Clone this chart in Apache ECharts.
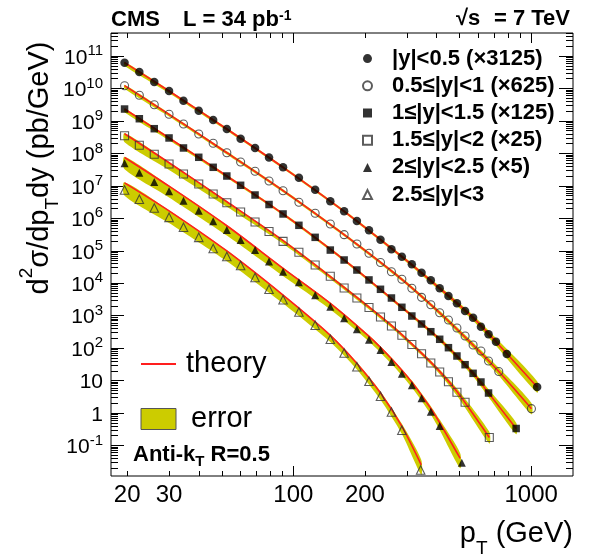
<!DOCTYPE html>
<html>
<head>
<meta charset="utf-8">
<script src="https://cdn.jsdelivr.net/npm/echarts@6/dist/echarts.min.js"></script>
<style>
  html, body { margin: 0; padding: 0; background: #fff; }
  #chart { width: 590px; height: 555px; }
</style>
</head>
<body>
<div id="chart"></div>
<script>
// ---- data (values as plotted, scale factors included) ----
const names = [
  '|y|<0.5 (×3125)',
  '0.5≤|y|<1 (×625)',
  '1≤|y|<1.5 (×125)',
  '1.5≤|y|<2 (×25)',
  '2≤|y|<2.5 (×5)',
  '2.5≤|y|<3'
];

const ptS1 = [19.5, 22.5, 26, 30, 34.5, 40, 46, 52.5, 60, 69, 79, 90.5, 105.5, 123.5, 143, 163.5, 185, 208, 232.5, 258.5, 286, 315, 346, 378.5, 412.5, 449, 487.5, 527.5, 570, 615, 662, 711.5, 790, 1060];
const valS1 = [6.24e10, 3.22e10, 1.58e10, 8.37e9, 4.21e9, 2.07e9, 1.07e9, 5.65e8, 2.84e8, 1.47e8, 7.48e7, 3.73e7, 1.78e7, 7.60e6, 3.34e6, 1.64e6, 8.26e5, 4.27e5, 2.19e5, 1.11e5, 6.56e4, 3.82e4, 2.11e4, 1.23e4, 6.97e3, 4.04e3, 2.40e3, 1.39e3, 865, 456, 266, 157, 65.8, 6.32];

const ptS2 = [19.5, 22.5, 26, 30, 34.5, 40, 46, 52.5, 60, 69, 79, 90.5, 105.5, 123.5, 143, 163.5, 185, 208, 232.5, 258.5, 286, 315, 346, 378.5, 412.5, 449, 487.5, 527.5, 570, 615, 662, 731, 1003];
const valS2 = [1.22e10, 6.17e9, 3.17e9, 1.60e9, 8.05e8, 3.96e8, 2.05e8, 1.05e8, 5.43e7, 2.81e7, 1.41e7, 7.10e6, 3.11e6, 1.43e6, 6.67e5, 3.13e5, 1.61e5, 8.34e4, 4.35e4, 2.26e4, 1.32e4, 6.97e3, 3.67e3, 2.17e3, 1.23e3, 735, 416, 236, 125, 81.5, 40.0, 19.0, 1.36];

const ptS3 = [19.5, 22.5, 26, 30, 34.5, 40, 46, 52.5, 60, 69, 79, 90.5, 105.5, 123.5, 143, 163.5, 185, 208, 232.5, 258.5, 286, 315, 346, 378.5, 412.5, 449, 487.5, 527.5, 570, 615, 662, 865];
const valS3 = [2.33e9, 1.17e9, 5.77e8, 2.99e8, 1.47e8, 7.59e7, 3.73e7, 2.01e7, 1.04e7, 5.22e6, 2.66e6, 1.36e6, 6.08e5, 2.59e5, 1.05e5, 5.19e4, 2.55e4, 1.26e4, 6.49e3, 3.50e3, 1.81e3, 975, 553, 320, 187, 103, 57.1, 30.8, 16.7, 9.02, 4.13, 0.333];

const ptS4 = [19.5, 22.5, 26, 30, 34.5, 40, 46, 52.5, 60, 69, 79, 90.5, 105.5, 123.5, 143, 163.5, 185, 208, 232.5, 258.5, 286, 315, 346, 378.5, 412.5, 449, 487.5, 527.5, 667];
const valS4 = [3.51e8, 1.78e8, 9.38e7, 4.71e7, 2.32e7, 1.14e7, 5.61e6, 3.03e6, 1.56e6, 7.69e5, 3.92e5, 1.95e5, 8.95e4, 3.64e4, 1.63e4, 7.11e3, 3.50e3, 1.78e3, 908, 480, 248, 129, 67.1, 34.8, 18.3, 9.14, 4.38, 2.15, 0.176];

const ptS5 = [19.5, 22.5, 26, 30, 34.5, 40, 46, 52.5, 60, 69, 79, 90.5, 105.5, 123.5, 143, 163.5, 185, 208, 232.5, 258.5, 286, 315, 346, 378.5, 412.5, 511];
const valS5 = [4.95e7, 2.54e7, 1.32e7, 6.79e6, 3.48e6, 1.71e6, 8.09e5, 4.36e5, 2.14e5, 1.05e5, 4.67e4, 2.26e4, 1.07e4, 4.24e3, 1.89e3, 828, 379, 182, 87.3, 37.3, 16.3, 7.14, 2.84, 1.10, 0.397, 0.0294];

const ptS6 = [19.5, 22.5, 26, 30, 34.5, 40, 46, 52.5, 60, 69, 79, 90.5, 105.5, 123.5, 143, 163.5, 185, 208, 232.5, 258.5, 286, 343];
const valS6 = [7.45e6, 3.85e6, 2.07e6, 1.07e6, 5.28e5, 2.59e5, 1.17e5, 6.65e4, 3.51e4, 1.50e4, 6.53e3, 3.10e3, 1.29e3, 505, 188, 70.6, 26.7, 9.55, 3.27, 1.07, 0.293, 0.0175];

// theory curves (red) and their uncertainty band (relative up / down)
const thPt1 = [19.5, 30, 52.5, 90.5, 163.5, 286, 412.5, 570, 711.5, 1060];
const thVal1 = [6.24e10, 8.37e9, 5.65e8, 3.73e7, 1.64e6, 6.56e4, 6.97e3, 865, 157, 6.32];
const thPt2 = [19.5, 30, 52.5, 90.5, 163.5, 286, 412.5, 570, 731, 1003];
const thVal2 = [1.22e10, 1.60e9, 1.05e8, 7.10e6, 3.13e5, 1.32e4, 1.23e3, 125, 19.0, 1.36];
const thPt3 = [19.5, 30, 52.5, 90.5, 163.5, 286, 412.5, 570, 662, 865];
const thVal3 = [2.33e9, 2.99e8, 2.01e7, 1.36e6, 5.19e4, 1.81e3, 187, 16.7, 4.13, 0.333];
const errUpC = [0.06, 0.08, 0.1, 0.1, 0.1, 0.12, 0.15, 0.2, 0.3, 0.5];
const errDnC = [0.2, 0.15, 0.12, 0.1, 0.1, 0.12, 0.15, 0.2, 0.25, 0.33];
const thPt4 = [19.5, 30, 52.5, 90.5, 163.5, 258.5, 346, 412.5, 487.5, 667];
const thVal4 = [4.03e8, 5.16e7, 3.24e6, 2.05e5, 7.45e3, 502, 70.3, 19.2, 4.58, 0.176];
const errUp4 = [0.05, 0.05, 0.06, 0.08, 0.1, 0.1, 0.12, 0.15, 0.25, 0.5];
const errDn4 = [0.45, 0.4, 0.3, 0.2, 0.15, 0.15, 0.15, 0.18, 0.25, 0.35];
const thPt5 = [19.5, 30, 52.5, 90.5, 143, 208, 258.5, 315, 378.5, 412.5, 503];
const thVal5 = [7.50e7, 9.77e6, 5.89e5, 2.88e4, 2.40e3, 229, 46.8, 8.91, 1.38, 0.501, 0.0398];
const errUp5 = [0.05, 0.05, 0.05, 0.05, 0.06, 0.08, 0.1, 0.12, 0.18, 0.25, 0.45];
const errDn5 = [0.57, 0.55, 0.5, 0.42, 0.35, 0.3, 0.3, 0.32, 0.35, 0.4, 0.5];
const thPt6 = [19.5, 30, 52.5, 90.5, 143, 185, 232.5, 286, 345];
const thVal6 = [1.24e7, 1.70e6, 9.84e4, 4.29e3, 248, 33.7, 4.12, 0.386, 0.0251];
const errUp6 = [0.05, 0.05, 0.05, 0.05, 0.06, 0.08, 0.12, 0.2, 0.45];
const errDn6 = [0.6, 0.58, 0.52, 0.45, 0.38, 0.35, 0.38, 0.42, 0.5];

// axis ticks
const xLabels = [20, 30, 100, 200, 1000];
const xMajor = [100, 1000];
const xMinor = [20, 30, 40, 50, 60, 70, 80, 90, 200, 300, 400, 500, 600, 700, 800, 900];
const yMajor = [0.1, 1, 10, 1e2, 1e3, 1e4, 1e5, 1e6, 1e7, 1e8, 1e9, 1e10, 1e11];
const X_RANGE = [17.1, 1500];
const Y_RANGE = [0.01145, 5.13e11];

const yMinor = [];
for (let d = -2; d <= 11; d++) {
  for (let k = 2; k <= 9; k++) {
    const v = k * Math.pow(10, d);
    if (v > Y_RANGE[0] && v < Y_RANGE[1]) yMinor.push(v);
  }
}

const FAMILY = 'Liberation Sans';
const RED = '#ff1e1e';
const BAND = '#cccc00';

const markers = [
  { pt: ptS1, val: valS1, symbol: 'circle', size: 8.5, open: false, thPt: thPt1, th: thVal1, up: errUpC, dn: errDnC },
  { pt: ptS2, val: valS2, symbol: 'circle', size: 8, open: true, thPt: thPt2, th: thVal2, up: errUpC, dn: errDnC },
  { pt: ptS3, val: valS3, symbol: 'rect', size: 7.5, open: false, thPt: thPt3, th: thVal3, up: errUpC, dn: errDnC },
  { pt: ptS4, val: valS4, symbol: 'rect', size: 8, open: true, thPt: thPt4, th: thVal4, up: errUp4, dn: errDn4 },
  { pt: ptS5, val: valS5, symbol: 'triangle', size: 8, open: false, thPt: thPt5, th: thVal5, up: errUp5, dn: errDn5 },
  { pt: ptS6, val: valS6, symbol: 'triangle', size: 8.5, open: true, thPt: thPt6, th: thVal6, up: errUp6, dn: errDn6 }
];

function logAxis(range, pos, ticks, len, labelValues, labelExtra) {
  const ax = {
    type: 'log',
    logBase: 10,
    min: range[0],
    max: range[1],
    position: pos,
    axisLine: { show: false, onZero: false },
    splitLine: { show: false },
    minorTick: { show: false },
    axisTick: { show: true, inside: true, length: len, customValues: ticks, lineStyle: { color: '#000', width: 1 } },
    axisLabel: { show: false }
  };
  if (labelValues) {
    ax.axisLabel = Object.assign({ show: true, customValues: labelValues, color: '#000', fontFamily: FAMILY }, labelExtra);
  }
  return ax;
}

function bandSeries(m) {
  const data = m.thPt.map((p, i) => [p, m.th[i] * (1 - m.dn[i]), m.th[i] * (1 + m.up[i])]);
  return {
    type: 'custom',
    name: 'error',
    z: 1,
    silent: true,
    itemStyle: { color: BAND },
    encode: { x: 0, y: [1, 2] },
    data: data,
    renderItem: function (params, api) {
      if (params.dataIndex !== 0) return;
      const upper = data.map((d) => api.coord([d[0], d[2]]));
      const lower = data.map((d) => api.coord([d[0], d[1]])).reverse();
      return {
        type: 'polygon',
        shape: { points: upper.concat(lower), smooth: 0.25 },
        style: { fill: BAND }
      };
    }
  };
}

const series = [];
markers.forEach((m) => series.push(bandSeries(m)));
markers.forEach((m) => {
  series.push({
    type: 'line',
    name: 'theory',
    z: 2,
    silent: true,
    smooth: 0.3,
    symbol: 'none',
    lineStyle: { color: RED, width: 1.6 },
    itemStyle: { color: RED },
    data: m.thPt.map((p, i) => [p, m.th[i]])
  });
});
markers.forEach((m, k) => {
  series.push({
    type: 'scatter',
    name: names[k],
    z: 3,
    silent: true,
    symbol: m.symbol,
    symbolSize: m.size,
    itemStyle: m.open
      ? { color: 'rgba(255,255,255,0)', borderColor: '#333', borderWidth: 1.1 }
      : { color: '#000' },
    data: m.pt.map((p, i) => [p, m.val[i]])
  });
});

const chart = echarts.init(document.getElementById('chart'));
chart.setOption({
  animation: false,
  backgroundColor: '#fff',
  grid: { left: 111, top: 33, right: 17, bottom: 79, show: true, borderColor: '#000', borderWidth: 1, backgroundColor: 'transparent' },
  xAxis: [
    logAxis(X_RANGE, 'bottom', xMajor, 10, xLabels, { fontSize: 24, margin: 7, formatter: (v) => String(Math.round(v)) }),
    logAxis(X_RANGE, 'bottom', xMinor, 5),
    logAxis(X_RANGE, 'top', xMajor, 10),
    logAxis(X_RANGE, 'top', xMinor, 5)
  ],
  yAxis: [
    logAxis(Y_RANGE, 'left', yMajor, 13, yMajor, {
      margin: 8,
      formatter: function (v) {
        const e = Math.round(Math.log10(v));
        if (e === 0) return '{a|1}';
        if (e === 1) return '{a|10}';
        return '{a|10}{b|' + e + '}';
      },
      rich: {
        a: { fontSize: 21, lineHeight: 25, verticalAlign: 'bottom', fontFamily: FAMILY, color: '#000' },
        b: { fontSize: 15, lineHeight: 15, verticalAlign: 'top', fontFamily: FAMILY, color: '#000' }
      }
    }),
    logAxis(Y_RANGE, 'left', yMinor, 7),
    logAxis(Y_RANGE, 'right', yMajor, 14),
    logAxis(Y_RANGE, 'right', yMinor, 7)
  ],
  legend: [
    {
      orient: 'vertical',
      left: 362,
      top: 45,
      padding: 0,
      itemWidth: 9,
      itemHeight: 9,
      itemGap: 0,
      selectedMode: false,
      textStyle: { fontFamily: FAMILY, fontWeight: 'bold', fontSize: 22, color: '#000', lineHeight: 27.2, padding: [0, 0, 0, 15] },
      data: names
    },
    {
      orient: 'vertical',
      left: 140,
      top: 349,
      padding: 0,
      itemWidth: 35,
      itemHeight: 21,
      itemGap: 25,
      selectedMode: false,
      textStyle: { fontFamily: FAMILY, fontSize: 29, color: '#000', lineHeight: 30 },
      data: [
        { name: 'theory', itemStyle: { color: 'rgba(0,0,0,0)', borderColor: 'rgba(0,0,0,0)', borderWidth: 0 }, textStyle: { padding: [0, 0, 0, 5] } },
        { name: 'error', icon: 'rect', itemStyle: { color: BAND, borderColor: '#555', borderWidth: 1 }, textStyle: { padding: [0, 0, 0, 10] } }
      ]
    }
  ],
  graphic: [
    { type: 'text', x: 111, y: 20, style: { text: 'CMS', font: 'bold 22px "Liberation Sans"', fill: '#000', textAlign: 'left', textVerticalAlign: 'middle' } },
    {
      type: 'text', x: 183, y: 18.5,
      style: {
        text: '{m|L = 34 pb}{s|-1}', fill: '#000', textAlign: 'left', textVerticalAlign: 'middle',
        rich: {
          m: { font: 'bold 22px "Liberation Sans"', lineHeight: 24, verticalAlign: 'bottom', fill: '#000' },
          s: { font: 'bold 14px "Liberation Sans"', lineHeight: 14, verticalAlign: 'top', padding: [3, 0, 0, 0], fill: '#000' }
        }
      }
    },
    { type: 'text', x: 456, y: 19, style: { text: '√s', font: 'bold 22px "Liberation Sans"', fill: '#000', textAlign: 'left', textVerticalAlign: 'middle' } },
    { type: 'text', x: 570, y: 19, style: { text: '= 7 TeV', font: 'bold 22px "Liberation Sans"', fill: '#000', textAlign: 'right', textVerticalAlign: 'middle' } },
    {
      type: 'text', x: 133, y: 456.4,
      style: {
        text: '{m|Anti-k}{s|T}{m| R=0.5}', fill: '#000', textAlign: 'left', textVerticalAlign: 'middle',
        rich: {
          m: { font: 'bold 22px "Liberation Sans"', lineHeight: 25, verticalAlign: 'top', fill: '#000' },
          s: { font: 'bold 15px "Liberation Sans"', lineHeight: 15, verticalAlign: 'bottom', fill: '#000' }
        }
      }
    },
    {
      type: 'text', x: 573, y: 539,
      style: {
        text: '{m|p}{s|T}{m| (GeV)}', fill: '#000', textAlign: 'right', textVerticalAlign: 'middle',
        rich: {
          m: { font: '29px "Liberation Sans"', lineHeight: 39, verticalAlign: 'top', fill: '#000' },
          s: { font: '19px "Liberation Sans"', lineHeight: 19, verticalAlign: 'bottom', fill: '#000' }
        }
      }
    },
    {
      type: 'text', x: 40, y: 168, rotation: Math.PI / 2,
      style: {
        text: '{m|d}{u|2}{m|σ/dp}{s|T}{m|dy (pb/GeV)}', fill: '#000', textAlign: 'center', textVerticalAlign: 'middle',
        rich: {
          m: { font: '29px "Liberation Sans"', lineHeight: 45, verticalAlign: 'middle', fill: '#000' },
          u: { font: '19px "Liberation Sans"', lineHeight: 19, verticalAlign: 'top', fill: '#000' },
          s: { font: '19px "Liberation Sans"', lineHeight: 19, verticalAlign: 'bottom', fill: '#000' }
        }
      }
    }
  ],
  series: series
});
</script>
</body>
</html>
